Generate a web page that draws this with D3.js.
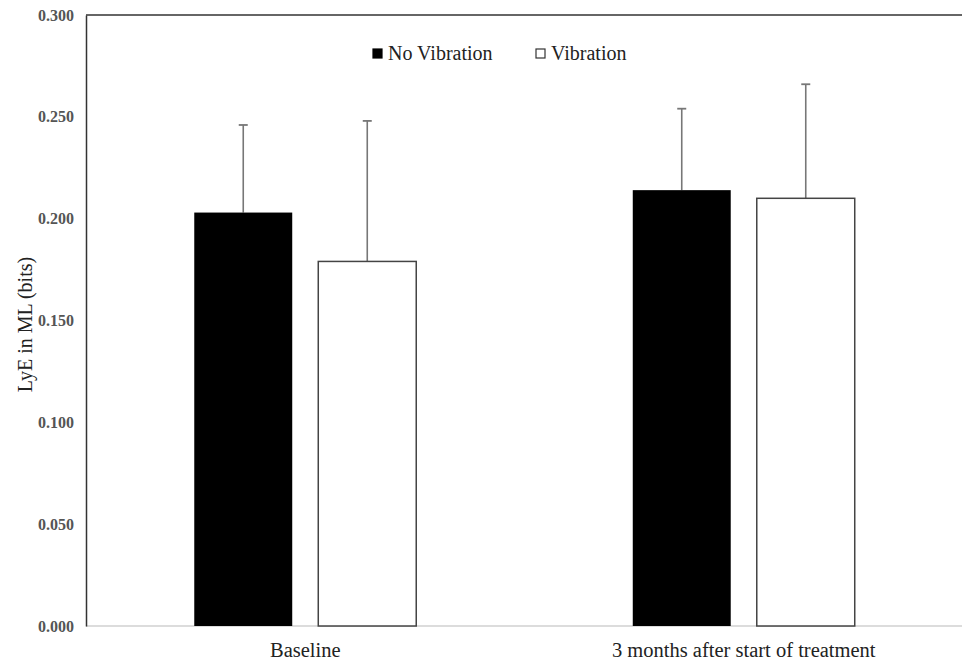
<!DOCTYPE html>
<html>
<head>
<meta charset="utf-8">
<script src="https://cdn.jsdelivr.net/npm/d3@7"></script>
<style>
  body { margin: 0; background: #fff; }
  svg text { font-family: "Liberation Serif", "Times New Roman", serif; }
</style>
</head>
<body>
<div id="chart"></div>
<script>
// data
var categories = ["Baseline", "3 months after start of treatment"];
var seriesNames = ["No Vibration", "Vibration"];
var noVibMean = [0.203, 0.214];
var noVibSD = [0.043, 0.040];
var vibMean = [0.179, 0.210];
var vibSD = [0.069, 0.056];
var yTicks = [0, 0.05, 0.1, 0.15, 0.2, 0.25, 0.3];

var W = 962, H = 661;
var margin = { top: 15, left: 86, bottom: 35 };
var plotRight = 963;

var svg = d3.select('#chart').append('svg')
  .attr('width', W)
  .attr('height', H);

var x = d3.scaleBand()
  .domain(categories)
  .range([margin.left, plotRight])
  .paddingInner(0)
  .paddingOuter(0);

var inner = d3.scaleBand()
  .domain(seriesNames)
  .range([0, x.bandwidth()])
  .paddingInner(0.21)
  .paddingOuter(0.873);

var y = d3.scaleLinear()
  .domain([0, 0.3])
  .range([H - margin.bottom, margin.top]);

// bottom axis line (light)
svg.append('line')
  .attr('x1', margin.left).attr('x2', plotRight)
  .attr('y1', y(0)).attr('y2', y(0))
  .attr('stroke', '#d0d0d0').attr('stroke-width', 1.5);

// top border
svg.append('line')
  .attr('x1', margin.left).attr('x2', plotRight)
  .attr('y1', y(0.3)).attr('y2', y(0.3))
  .attr('stroke', '#333').attr('stroke-width', 1.5);

// y axis
var yAxis = d3.axisLeft(y)
  .tickValues(yTicks)
  .tickSize(0)
  .tickPadding(12)
  .tickFormat(d3.format('.3f'));

var gy = svg.append('g')
  .attr('transform', 'translate(' + margin.left + ',0)')
  .call(yAxis);
gy.select('.domain').attr('stroke', '#333').attr('stroke-width', 1.5);
gy.selectAll('text')
  .attr('font-size', 16)
  .attr('font-weight', 'bold')
  .attr('fill', '#555');

// category labels
var xAxis = d3.axisBottom(x).tickSize(0).tickPadding(16);
var gx = svg.append('g')
  .attr('transform', 'translate(0,' + y(0) + ')')
  .call(xAxis);
gx.select('.domain').remove();
gx.selectAll('text')
  .attr('font-size', 20.5)
  .attr('fill', '#222');

// y title
svg.append('text')
  .attr('transform', 'translate(32,' + ((y(0) + y(0.3)) / 2 + 4) + ') rotate(-90)')
  .attr('text-anchor', 'middle')
  .attr('font-size', 20)
  .attr('fill', '#222')
  .text('LyE in ML (bits)');

var rows = [];
categories.forEach(function (c, i) {
  rows.push({ cat: c, s: seriesNames[0], m: noVibMean[i], sd: noVibSD[i], fill: '#000' });
  rows.push({ cat: c, s: seriesNames[1], m: vibMean[i], sd: vibSD[i], fill: '#fff' });
});

// error bars (drawn first so the bars cover the lower part)
var eb = svg.append('g').selectAll('g').data(rows).enter().append('g');
eb.append('line')
  .attr('x1', function (d) { return x(d.cat) + inner(d.s) + inner.bandwidth() / 2; })
  .attr('x2', function (d) { return x(d.cat) + inner(d.s) + inner.bandwidth() / 2; })
  .attr('y1', function (d) { return y(d.m); })
  .attr('y2', function (d) { return y(d.m + d.sd); })
  .attr('stroke', '#777').attr('stroke-width', 1.6);
eb.append('line')
  .attr('x1', function (d) { return x(d.cat) + inner(d.s) + inner.bandwidth() / 2 - 4.5; })
  .attr('x2', function (d) { return x(d.cat) + inner(d.s) + inner.bandwidth() / 2 + 4.5; })
  .attr('y1', function (d) { return y(d.m + d.sd); })
  .attr('y2', function (d) { return y(d.m + d.sd); })
  .attr('stroke', '#777').attr('stroke-width', 1.8);

// bars
svg.append('g').selectAll('rect').data(rows).enter().append('rect')
  .attr('x', function (d) { return x(d.cat) + inner(d.s); })
  .attr('width', inner.bandwidth())
  .attr('y', function (d) { return y(d.m); })
  .attr('height', function (d) { return y(0) - y(d.m); })
  .attr('fill', function (d) { return d.fill; })
  .attr('stroke', function (d) { return d.fill === '#000' ? 'none' : '#444'; })
  .attr('stroke-width', 1.5);

// legend
var legend = svg.append('g');
var legendX = [373, 536];
seriesNames.forEach(function (s, i) {
  var g = legend.append('g').attr('transform', 'translate(' + legendX[i] + ',49)');
  g.append('rect')
    .attr('width', 9).attr('height', 9)
    .attr('fill', i === 0 ? '#000' : '#fff')
    .attr('stroke', i === 0 ? '#000' : '#333')
    .attr('stroke-width', 1.2);
  g.append('text')
    .attr('x', 15).attr('y', 11)
    .attr('font-size', 20)
    .attr('fill', '#222')
    .text(s);
});
</script>
</body>
</html>
